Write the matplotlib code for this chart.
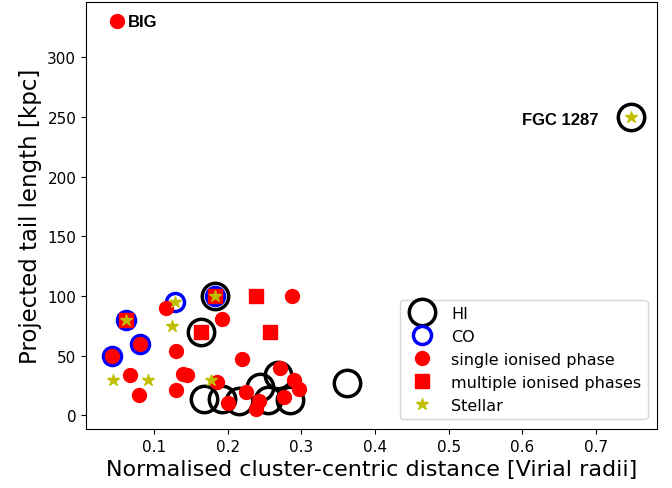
import numpy as np
import matplotlib.pyplot as plt

# HI tails
hi_x = [0.183, 0.164, 0.168, 0.193, 0.216, 0.244, 0.255, 0.269, 0.285, 0.362, 0.748]
hi_y = [100, 70, 14, 14, 12, 24, 13, 34, 13, 27, 250]
# CO tails
co_x = [0.043, 0.062, 0.081, 0.128, 0.183]
co_y = [50, 80, 60, 95, 100]
# single ionised phase
si_x = [0.050, 0.043, 0.081, 0.116, 0.193, 0.288, 0.130, 0.220, 0.067, 0.080, 0.130,
        0.139, 0.145, 0.185, 0.201, 0.2245, 0.243, 0.239, 0.271, 0.290, 0.297, 0.277]
si_y = [330, 50, 60, 90, 81, 100, 54, 47, 34, 17, 21,
        35, 34, 28, 10, 20, 12, 5, 40, 30, 22, 15]
# multiple ionised phases
mi_x = [0.062, 0.183, 0.164, 0.238, 0.258]
mi_y = [80, 100, 70, 100, 70]
# stellar tails
st_x = [0.062, 0.128, 0.183, 0.124, 0.044, 0.092, 0.178, 0.748]
st_y = [80, 95, 100, 75, 30, 30, 30, 250]

fig = plt.figure(figsize=(6.72, 4.89), dpi=100)
ax = fig.add_axes([0.128, 0.121, 0.85, 0.873])

ax.plot(hi_x, hi_y, 'o', mfc='none', mec='k', ms=19, mew=2.5, label='HI')
ax.plot(co_x, co_y, 'o', mfc='none', mec='b', ms=13, mew=2.5, label='CO')
ax.plot(si_x, si_y, 'o', color='r', ms=10, label='single ionised phase')
ax.plot(mi_x, mi_y, 's', color='r', ms=10, label='multiple ionised phases')
ax.plot(st_x, st_y, '*', color='y', ms=9, label='Stellar')

ax.text(0.065, 330, 'BIG', fontsize=12, fontweight='bold', family='Liberation Sans',
        va='center', ha='left')
ax.text(0.703, 248, 'FGC 1287', fontsize=12, fontweight='bold', family='Liberation Sans',
        va='center', ha='right')

ax.set_xlabel('Normalised cluster-centric distance [Virial radii]', fontsize=16)
ax.set_ylabel('Projected tail length [kpc]', fontsize=16.5)
ax.tick_params(labelsize=11)
ax.legend(loc='lower right', fontsize=11.5, borderaxespad=0.6)

fig.savefig('out.png', dpi=100)
